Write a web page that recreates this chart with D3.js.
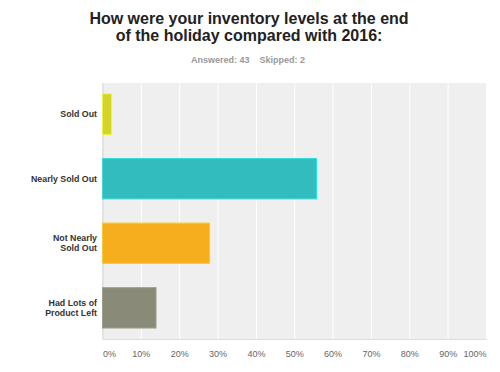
<!DOCTYPE html>
<html>
<head>
<meta charset="utf-8">
<script src="https://cdn.jsdelivr.net/npm/d3@7"></script>
<style>
  body { margin: 0; background: #fff; }
  text { font-family: Arial, "Liberation Sans", sans-serif; }
</style>
</head>
<body>
<div id="chart"></div>
<script>
var categories = ["Sold Out", "Nearly Sold Out", "Not Nearly Sold Out", "Had Lots of Product Left"];
var labelLines = [["Sold Out"], ["Nearly Sold Out"], ["Not Nearly", "Sold Out"], ["Had Lots of", "Product Left"]];
var responses = [1, 24, 12, 6];
var answered = 43;
var skipped = 2;
var colors = ["#d2d32b", "#32bcbe", "#f6ae1f", "#898a78"];
var tickValues = [0, 0.1, 0.2, 0.3, 0.4, 0.5, 0.6, 0.7, 0.8, 0.9, 1];
var titleLines = ["How were your inventory levels at the end", "of the holiday compared with 2016:"];

var width = 500;
var height = 372;
var plotLeft = 102.5, plotRight = 486, plotTop = 83, plotBottom = 339;

var svg = d3.select("#chart")
  .append("svg")
  .attr("width", width)
  .attr("height", height);

/* Scales */
var xScale = d3.scaleLinear()
  .domain([0, 1])
  .range([plotLeft, plotRight]);

var yScale = d3.scaleBand()
  .domain(categories)
  .range([plotTop, plotBottom])
  .paddingInner(0.375)
  .paddingOuter(0.17);

/* Title */
svg.append("text")
  .attr("x", 249)
  .attr("y", 23.5)
  .attr("text-anchor", "middle")
  .style("font-size", "16px")
  .style("font-weight", "bold")
  .attr("fill", "#222")
  .selectAll("tspan")
  .data(titleLines).enter()
  .append("tspan")
  .attr("x", 249)
  .attr("dy", (d, i) => i == 0 ? 0 : 17.5)
  .text(d => d);

svg.append("text")
  .attr("x", 248)
  .attr("y", 63)
  .attr("text-anchor", "middle")
  .style("font-size", "9px")
  .style("font-weight", "bold")
  .attr("fill", "#999")
  .attr("xml:space", "preserve")
  .text("Answered: " + answered + "    Skipped: " + skipped);

/* Plot background */
svg.append("rect")
  .attr("x", plotLeft)
  .attr("y", plotTop)
  .attr("width", plotRight - plotLeft)
  .attr("height", plotBottom - plotTop)
  .attr("fill", "#efefef");

/* Grid */
var xAxis = d3.axisBottom(xScale)
  .tickValues(tickValues)
  .tickSize(-(plotBottom - plotTop))
  .tickFormat(d3.format(".0%"));

var gx = svg.append("g")
  .attr("class", "x axis")
  .attr("transform", `translate(0, ${plotBottom})`)
  .call(xAxis);

gx.select(".domain").attr("stroke", "#ddd");
gx.selectAll(".tick line")
  .attr("stroke", (d) => d == 0 ? "#ddd" : "#fff")
  .attr("stroke-width", 1);
gx.selectAll(".tick text")
  .attr("y", 12)
  .attr("fill", "#666")
  .style("font-size", "9px")
  .style("font-family", "Arial, 'Liberation Sans', sans-serif")
  .attr("text-anchor", (d) => d == 0 ? "start" : (d == 1 ? "end" : "middle"))
  .attr("dx", (d) => d == 0 ? 0 : 0);

/* Bars */
svg.append("g")
  .selectAll("rect")
  .data(responses).enter()
  .append("rect")
  .attr("x", xScale(0))
  .attr("y", (d, i) => yScale(categories[i]))
  .attr("width", d => xScale(d / answered) - xScale(0))
  .attr("height", yScale.bandwidth())
  .attr("fill", (d, i) => colors[i])
  .attr("stroke", (d, i) => d3.color(colors[i]).brighter(0.4))
  .attr("stroke-width", 1);

/* Category labels */
svg.append("g")
  .selectAll("text")
  .data(labelLines).enter()
  .append("text")
  .attr("x", 97)
  .attr("y", (d, i) => yScale(categories[i]) + yScale.bandwidth() / 2 + 3 - (d.length - 1) * 5)
  .attr("text-anchor", "end")
  .style("font-size", "8.8px")
  .style("font-weight", "bold")
  .attr("fill", "#333")
  .selectAll("tspan")
  .data(d => d).enter()
  .append("tspan")
  .attr("x", 97)
  .attr("dy", (d, i) => i == 0 ? 0 : 10)
  .text(d => d);
</script>
</body>
</html>
